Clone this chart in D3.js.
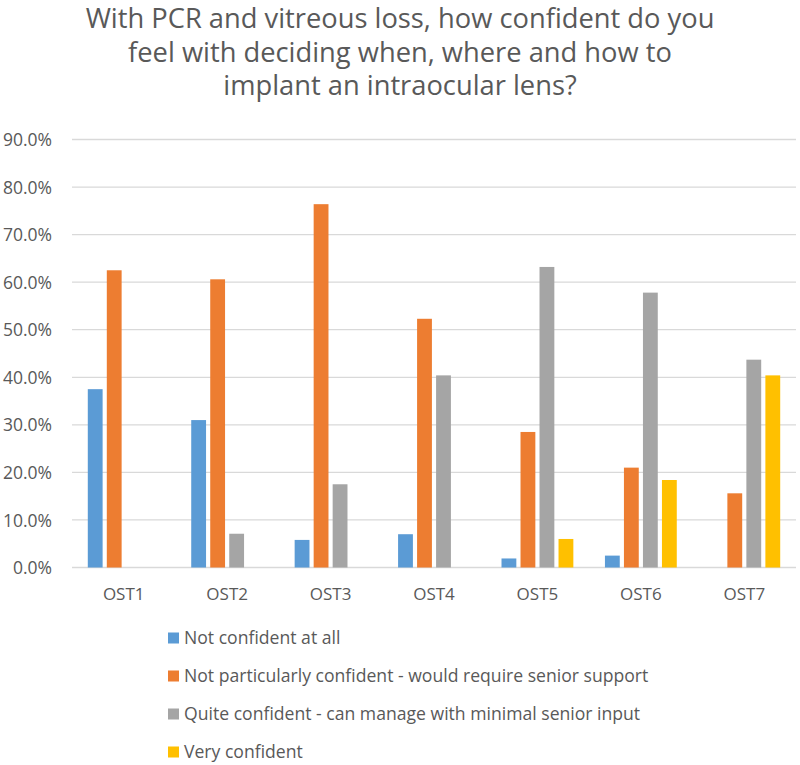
<!DOCTYPE html>
<html>
<head>
<meta charset="utf-8">
<script src="https://cdn.jsdelivr.net/npm/d3@7/dist/d3.min.js"></script>
<style>
  html, body { margin: 0; padding: 0; background: #fff; }
  svg { display: block; }
  text { font-family: "Open Sans", sans-serif; fill: #595959; }
</style>
</head>
<body>
<svg id="chart" width="800" height="765"></svg>
<script>
const titleLines = [
  "With PCR and vitreous loss, how confident do you",
  "feel with deciding when, where and how to",
  "implant an intraocular lens?"
];
const categories = ["OST1", "OST2", "OST3", "OST4", "OST5", "OST6", "OST7"];
const seriesNames = [
  "Not confident at all",
  "Not particularly confident - would require senior support",
  "Quite confident - can manage with minimal senior input",
  "Very confident"
];
const notConfident      = [37.5, 31.0, 5.8, 7.0, 1.9, 2.5, 0];
const notParticularly   = [62.5, 60.6, 76.4, 52.3, 28.5, 21.0, 15.6];
const quiteConfident    = [0, 7.1, 17.5, 40.4, 63.2, 57.8, 43.7];
const veryConfident     = [0, 0, 0, 0, 6.0, 18.4, 40.4];
const yTicks = [0, 10, 20, 30, 40, 50, 60, 70, 80, 90];
const colors = ["#5B9BD5", "#ED7D31", "#A5A5A5", "#FFC000"];

const seriesValues = [notConfident, notParticularly, quiteConfident, veryConfident];

const svg = d3.select("#chart");
const mLeft = 72, mRight = 796, mTop = 139.5, mBottom = 567.5;

const x0 = d3.scaleBand().domain(categories).range([mLeft, mRight])
  .paddingInner(0.265).paddingOuter(0.1325);
const x1 = d3.scaleBand().domain(d3.range(seriesNames.length))
  .range([0, x0.bandwidth()]).paddingInner(0.22).paddingOuter(0.11);
const y = d3.scaleLinear().domain([0, 90]).range([mBottom, mTop]);

// Title
svg.append("g").selectAll("text").data(titleLines).join("text")
  .attr("x", 400).attr("y", (d, i) => 28 + i * 33.5)
  .attr("text-anchor", "middle")
  .style("font-size", "27.3px")
  .text(d => d);

// Gridlines
svg.append("g").selectAll("line").data(yTicks).join("line")
  .attr("x1", mLeft).attr("x2", mRight)
  .attr("y1", d => y(d)).attr("y2", d => y(d))
  .attr("stroke", "#D9D9D9").attr("stroke-width", 1.3);

// Y axis labels
const yAxis = d3.axisLeft(y).tickValues(yTicks).tickSize(0).tickPadding(0)
  .tickFormat(d => d3.format(".1f")(d) + "%");
const ya = svg.append("g").attr("transform", `translate(52,0)`).call(yAxis);
ya.select(".domain").remove();
ya.selectAll("text").style("font-size", "17.5px").style("font-family", "'Open Sans', sans-serif")
  .attr("fill", "#595959").attr("dy", "0.35em");

// Bars
const groups = svg.append("g").selectAll("g").data(categories).join("g")
  .attr("transform", d => `translate(${x0(d)},0)`);
groups.selectAll("rect")
  .data((c, ci) => seriesValues.map((vals, si) => ({ si, v: vals[ci] })))
  .join("rect")
  .filter(d => d.v > 0)
  .attr("x", d => x1(d.si))
  .attr("width", x1.bandwidth())
  .attr("y", d => y(d.v))
  .attr("height", d => y(0) - y(d.v))
  .attr("fill", d => colors[d.si]);

// X axis labels
const xAxis = d3.axisBottom(x0).tickSize(0).tickPadding(0);
const xa = svg.append("g").attr("transform", `translate(0,${mBottom})`).call(xAxis);
xa.select(".domain").remove();
xa.selectAll("text").style("font-size", "17px").style("font-family", "'Open Sans', sans-serif")
  .attr("fill", "#595959").attr("dy", "0").attr("y", 32.5);

// Legend
const leg = svg.append("g").selectAll("g").data(seriesNames).join("g")
  .attr("transform", (d, i) => `translate(168,${638 + i * 38})`);
leg.append("rect").attr("x", 0).attr("y", -5.5).attr("width", 11).attr("height", 11)
  .attr("fill", (d, i) => colors[i]);
leg.append("text").attr("x", 16).attr("y", 0).attr("dy", "0.35em")
  .style("font-size", "17.6px").text(d => d);
</script>
</body>
</html>
